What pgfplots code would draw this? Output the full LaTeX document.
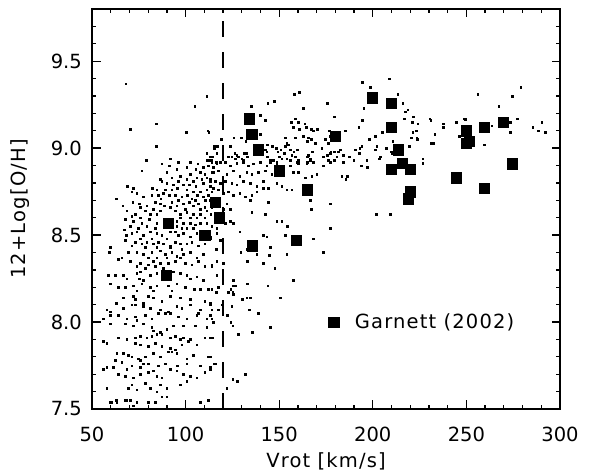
\documentclass[border=0pt]{standalone}
\usepackage{fontspec}
\setmainfont{DejaVu Sans}
\newfontfamily\lblfont[LetterSpace=6]{DejaVu Sans}
\usepackage{pgfplots}
\usepackage{pgfplotstable}
\pgfplotsset{compat=1.18}
\pgfplotstableread{
x y
134.0 9.17
135.3 9.08
138.8 8.99
150.1 8.87
115.9 8.69
118.0 8.60
90.8 8.57
110.2 8.50
89.5 8.27
135.6 8.44
159.0 8.47
165.0 8.76
179.8 9.07
199.7 9.29
209.9 9.26
209.9 9.12
213.7 8.99
215.8 8.915
209.9 8.88
220.0 8.88
220.0 8.75
218.9 8.71
244.6 8.83
259.6 8.77
250.0 9.10
251.6 9.04
250.0 9.03
259.6 9.12
269.7 9.15
274.5 8.91
}\garnett
\pgfplotstableread{
x y
68.0 9.37
111.3 9.30
104.9 9.24
84.2 9.14
70.5 9.11
100.4 9.09
111.8 9.10
112.3 9.09
84.2 9.01
115.2 9.00
111.3 8.97
114.1 8.95
91.7 8.94
78.8 8.93
96.1 8.92
112.1 8.93
113.0 8.93
160.6 9.32
157.9 9.31
147.2 9.27
143.8 9.26
135.1 9.24
175.5 9.26
162.9 9.23
139.9 9.19
142.6 9.16
156.5 9.15
158.6 9.17
160.0 9.15
157.4 9.12
163.6 9.14
164.3 9.12
160.6 9.11
167.0 9.11
170.4 9.11
168.2 9.10
162.7 9.07
165.6 9.06
167.2 9.05
165.0 9.04
176.6 9.10
153.3 9.06
158.4 9.06
139.7 9.08
125.7 9.06
129.8 9.06
132.1 9.04
118.9 9.05
115.2 9.01
116.9 9.01
123.7 9.01
126.2 8.97
124.6 8.95
128.0 8.95
131.4 8.97
132.6 8.97
130.0 8.94
113.0 8.95
113.9 8.95
116.6 8.97
143.5 9.02
146.2 9.01
148.3 9.00
142.4 8.99
143.3 8.98
143.5 8.95
149.2 8.98
150.8 8.99
152.6 8.97
154.0 9.03
154.9 9.02
153.3 9.01
155.8 8.99
157.8 8.98
159.7 8.99
156.7 8.96
158.6 8.95
150.1 8.95
151.3 8.94
154.0 8.94
155.8 8.93
160.2 8.93
159.7 8.92
165.6 8.96
165.0 8.95
166.5 8.94
167.5 8.98
169.3 9.03
172.7 9.00
173.6 8.95
175.7 8.96
177.5 8.98
174.6 9.05
176.1 9.03
177.3 9.07
122.8 8.95
126.4 8.94
128.1 8.95
127.3 8.96
130.8 8.92
133.0 8.95
113.0 8.93
116.2 8.92
118.4 8.92
145.1 8.92
146.8 8.93
148.7 8.92
165.0 8.92
166.5 8.93
177.1 8.92
179.3 8.93
78.8 8.93
87.2 8.91
96.1 8.92
91.3 8.90
102.3 8.92
106.4 8.91
111.2 8.93
113.9 8.92
112.1 8.90
114.8 8.89
109.5 8.89
105.5 8.88
100.6 8.89
95.2 8.88
76.5 8.87
89.9 8.86
107.7 8.86
113.9 8.86
110.3 8.85
102.3 8.85
97.0 8.84
92.5 8.83
86.3 8.82
87.2 8.81
105.9 8.83
111.2 8.83
113.0 8.82
100.6 8.82
104.1 8.81
108.6 8.82
68.9 8.78
72.1 8.77
71.2 8.75
82.2 8.77
89.9 8.80
93.4 8.79
96.1 8.81
98.8 8.79
102.0 8.79
105.5 8.78
109.5 8.80
113.0 8.78
114.8 8.77
84.5 8.76
89.0 8.76
92.5 8.76
95.6 8.77
100.6 8.76
104.1 8.75
107.7 8.75
111.2 8.76
62.8 8.71
73.9 8.74
77.4 8.72
81.9 8.73
85.4 8.73
88.1 8.74
91.3 8.73
94.3 8.73
97.9 8.72
100.9 8.73
103.2 8.71
106.2 8.73
109.5 8.72
112.1 8.73
86.7 8.71
96.1 8.70
105.0 8.70
110.4 8.70
113.0 8.70
66.4 8.67
71.7 8.69
75.3 8.68
79.2 8.67
83.6 8.69
86.3 8.68
88.5 8.67
92.5 8.69
95.2 8.67
98.8 8.68
102.0 8.69
104.1 8.67
106.8 8.68
110.3 8.66
113.9 8.67
91.7 8.66
82.8 8.65
75.6 8.66
99.7 8.65
107.7 8.65
68.5 8.64
73.0 8.62
78.3 8.64
81.0 8.62
84.5 8.62
86.3 8.64
94.3 8.64
97.0 8.62
100.6 8.63
104.1 8.62
107.7 8.62
111.2 8.64
113.4 8.62
71.2 8.61
75.6 8.60
97.0 8.60
102.3 8.60
105.9 8.60
110.3 8.60
67.6 8.59
72.1 8.58
76.5 8.57
80.6 8.59
84.5 8.57
95.2 8.58
98.8 8.57
102.3 8.57
105.0 8.56
107.7 8.57
111.2 8.57
113.9 8.55
70.3 8.55
74.7 8.54
79.2 8.55
83.6 8.54
95.2 8.55
97.9 8.54
100.6 8.54
104.1 8.54
67.1 8.53
68.2 8.50
71.2 8.51
73.9 8.52
77.4 8.50
81.0 8.52
84.5 8.51
87.2 8.50
91.7 8.52
94.3 8.52
96.1 8.50
98.8 8.51
102.3 8.49
105.9 8.51
108.6 8.48
111.2 8.50
113.4 8.49
75.6 8.48
81.9 8.48
89.9 8.48
59.6 8.43
67.6 8.47
73.0 8.46
76.5 8.45
79.2 8.46
82.8 8.45
85.4 8.46
88.1 8.45
91.7 8.44
94.3 8.46
97.0 8.45
100.6 8.45
103.2 8.46
106.8 8.44
110.3 8.45
71.2 8.44
78.3 8.43
84.5 8.43
91.7 8.43
97.9 8.42
59.3 8.40
64.1 8.36
65.8 8.37
69.4 8.40
73.9 8.40
77.4 8.39
81.9 8.40
86.3 8.41
89.0 8.39
92.5 8.40
95.2 8.38
98.8 8.39
102.3 8.40
105.9 8.37
109.5 8.39
80.1 8.37
84.5 8.37
89.9 8.37
97.0 8.37
70.3 8.35
75.6 8.34
80.1 8.33
82.8 8.35
86.3 8.34
90.8 8.34
94.3 8.35
99.7 8.34
103.2 8.33
106.8 8.35
110.3 8.32
113.9 8.33
73.9 8.32
78.3 8.31
83.6 8.32
88.1 8.31
58.7 8.27
62.3 8.27
66.7 8.27
73.9 8.28
75.3 8.25
77.4 8.24
81.0 8.27
84.5 8.28
93.4 8.29
97.0 8.28
100.6 8.27
102.3 8.25
105.9 8.26
75.6 8.29
68.5 8.25
109.5 8.24
113.9 8.93
116.6 8.91
121.0 8.92
123.7 8.90
127.3 8.915
130.8 8.93
133.5 8.90
136.2 8.91
139.7 8.92
143.3 8.90
145.1 8.93
148.6 8.915
155.8 8.90
160.2 8.915
164.7 8.91
168.2 8.92
173.5 8.90
176.2 8.93
114.8 8.86
117.5 8.87
121.9 8.85
125.5 8.87
129.0 8.84
132.6 8.86
135.3 8.85
138.8 8.86
142.4 8.87
146.0 8.85
157.5 8.86
160.2 8.86
163.8 8.83
167.3 8.84
170.0 8.85
113.0 8.81
115.7 8.81
118.4 8.80
121.0 8.81
124.6 8.80
127.3 8.79
130.8 8.81
134.4 8.80
137.9 8.78
141.5 8.81
144.2 8.77
151.3 8.78
154.0 8.76
156.6 8.76
148.6 8.80
113.9 8.75
117.5 8.76
120.2 8.74
122.8 8.75
125.5 8.73
129.0 8.74
131.7 8.72
135.3 8.73
137.9 8.75
141.5 8.77
115.2 8.71
121.9 8.68
123.7 8.65
120.2 8.65
134.4 8.70
144.2 8.69
166.4 8.70
177.1 8.68
113.9 8.66
115.7 8.62
135.3 8.63
142.4 8.62
148.6 8.58
151.3 8.58
154.3 8.55
177.1 8.54
121.0 8.57
123.7 8.58
125.5 8.57
113.9 8.55
116.6 8.54
129.0 8.52
141.5 8.50
143.3 8.49
153.1 8.50
168.2 8.48
116.6 8.51
113.0 8.48
118.4 8.47
145.1 8.43
116.2 8.42
132.6 8.42
137.9 8.39
144.7 8.385
129.4 8.40
154.0 8.39
173.5 8.40
116.6 8.35
132.9 8.35
141.5 8.34
113.9 8.32
120.2 8.34
147.7 8.31
116.6 8.27
157.5 8.24
125.5 8.24
167.0 8.65
59.6 8.22
64.1 8.20
67.6 8.20
72.1 8.21
76.5 8.22
81.0 8.20
84.5 8.21
90.8 8.21
95.2 8.22
99.7 8.20
104.5 8.19
107.7 8.19
112.1 8.19
73.9 8.18
82.8 8.18
92.5 8.18
62.8 8.11
66.7 8.14
72.1 8.15
73.0 8.13
77.4 8.11
80.1 8.15
82.8 8.14
87.2 8.12
91.7 8.15
97.0 8.14
102.3 8.13
110.3 8.12
113.0 8.11
71.2 8.10
57.8 8.07
59.6 8.06
66.7 8.08
73.0 8.10
77.4 8.09
81.0 8.08
86.3 8.07
90.8 8.06
95.2 8.09
97.9 8.08
102.3 8.10
106.8 8.05
107.7 8.07
113.9 8.07
56.1 8.02
59.6 8.04
64.1 8.04
68.5 8.02
73.0 8.03
73.9 8.01
78.3 8.04
81.9 8.02
85.4 8.05
89.0 8.05
91.7 8.05
96.1 8.03
100.6 8.02
105.9 8.04
111.2 8.02
59.6 7.99
67.6 7.99
72.1 7.98
77.4 7.99
81.9 7.97
82.8 7.95
86.3 7.94
89.9 7.96
93.4 7.98
98.8 7.98
105.0 7.98
111.2 7.97
56.1 7.89
57.8 7.88
64.1 7.91
68.5 7.90
73.0 7.91
75.6 7.92
79.2 7.91
81.9 7.92
84.5 7.93
87.2 7.93
91.7 7.91
94.3 7.92
98.8 7.91
102.3 7.90
110.3 7.91
113.9 7.91
73.0 7.88
75.6 7.87
80.1 7.86
83.6 7.88
87.2 7.86
91.7 7.85
94.3 7.84
97.9 7.87
101.4 7.89
105.9 7.87
97.0 7.90
63.2 7.82
66.7 7.82
69.4 7.81
71.2 7.80
74.7 7.79
78.3 7.80
82.8 7.82
86.3 7.80
90.8 7.83
92.5 7.83
95.2 7.82
100.6 7.79
104.1 7.81
112.1 7.80
75.6 7.78
56.1 7.73
57.8 7.74
62.3 7.78
65.8 7.77
71.2 7.75
75.6 7.74
77.4 7.76
80.1 7.76
85.4 7.75
89.0 7.76
91.7 7.73
95.6 7.75
100.6 7.76
107.7 7.75
113.0 7.73
115.7 7.76
61.4 7.74
68.5 7.73
82.8 7.72
64.1 7.70
67.6 7.69
72.1 7.68
75.6 7.70
80.1 7.71
84.5 7.69
87.2 7.68
95.2 7.72
98.8 7.70
102.3 7.69
105.9 7.68
110.3 7.71
57.8 7.62
69.4 7.62
71.2 7.64
73.9 7.61
78.3 7.65
81.0 7.62
84.5 7.60
86.3 7.64
89.9 7.62
97.0 7.64
100.6 7.66
60.5 7.54
62.8 7.55
67.6 7.55
70.3 7.55
73.9 7.54
80.1 7.54
83.6 7.54
87.2 7.57
89.9 7.57
107.7 7.54
112.1 7.55
59.6 7.54
63.2 7.54
68.2 7.55
72.1 7.52
113.9 8.19
117.5 8.20
116.2 8.17
124.1 8.19
125.1 8.21
126.4 8.21
133.0 8.22
143.8 8.21
122.8 8.17
125.1 8.17
125.5 8.16
130.3 8.13
132.6 8.14
134.4 8.14
150.4 8.14
113.0 8.10
119.3 8.10
124.6 8.09
117.5 8.07
134.0 8.07
138.8 8.05
113.0 8.04
113.9 8.02
114.8 8.00
122.3 8.04
124.1 8.00
125.1 7.98
145.1 7.97
128.2 7.93
135.6 7.94
113.0 7.91
114.4 7.91
113.0 7.80
115.2 7.76
113.0 7.74
131.7 7.70
125.1 7.67
127.6 7.66
121.9 7.62
194.4 9.38
198.5 9.35
208.8 9.40
213.3 9.31
216.0 9.26
195.1 9.23
217.4 9.21
218.6 9.22
194.4 9.16
216.7 9.17
221.5 9.18
220.9 9.15
224.0 9.14
179.5 9.18
192.4 9.12
185.2 9.10
230.5 9.17
230.9 9.16
237.7 9.14
237.7 9.12
244.4 9.15
248.5 9.17
249.2 9.165
246.2 9.07
256.0 9.31
274.5 9.30
279.1 9.35
267.2 9.24
273.4 9.15
277.0 9.17
258.1 9.10
263.6 9.13
273.4 9.09
259.6 9.02
285.4 9.12
288.4 9.10
290.2 9.15
292.1 9.09
223.1 9.10
221.3 9.09
220.4 9.06
223.4 9.06
223.8 9.05
219.3 9.01
201.3 9.07
198.1 9.05
205.1 9.09
210.6 9.04
209.7 8.98
207.2 9.00
202.1 9.01
201.2 8.99
194.0 9.01
193.0 9.00
190.5 8.99
192.8 8.97
189.8 8.93
184.3 8.96
187.3 8.95
182.5 8.99
181.4 8.98
179.5 8.98
177.1 8.97
184.3 8.92
180.7 8.95
196.7 8.93
193.7 8.90
197.1 8.89
204.0 8.95
203.5 8.94
210.3 8.97
226.6 8.94
226.6 8.915
231.3 9.03
232.3 9.03
233.0 9.08
183.4 8.84
186.2 8.84
185.5 8.82
201.7 8.62
209.2 8.62
177.1 8.54
}\survey
\begin{document}
\begin{tikzpicture}
\useasboundingbox (0,0) rectangle (601bp,475bp);
\begin{axis}[
  at={(92bp,66bp)}, anchor=south west,
  scale only axis, width=468bp, height=400bp,
  xmin=50, xmax=300, ymin=7.5, ymax=9.8,
  xtick={50,100,150,200,250,300},
  ytick={7.5,8,8.5,9,9.5},
  minor xtick={60,70,80,90,110,120,130,140,160,170,180,190,210,220,230,240,260,270,280,290},
  minor ytick={7.6,7.7,7.8,7.9,8.1,8.2,8.3,8.4,8.6,8.7,8.8,8.9,9.1,9.2,9.3,9.4,9.6,9.7},
  tick align=inside,
  major tick length=8.5bp, minor tick length=4.3bp,
  axis line style={line width=1.6bp},
  tick style={line width=1.3bp, black},
  /pgf/number format/assume math mode=true,
  tick label style={font=\fontsize{19.5bp}{23bp}\selectfont},
  xticklabel style={anchor=north, inner sep=0pt, yshift=-18bp},
  yticklabel style={anchor=east, inner sep=0pt, xshift=-10bp,
     /pgf/number format/.cd, fixed, fixed zerofill, precision=1},
  xlabel={\lblfont Vrot [km/s]},
  ylabel={\lblfont 12+Log[O/H]},
  label style={font=\fontsize{19.5bp}{23bp}\selectfont},
  xlabel style={at={(axis description cs:0.5,-0.131)}, anchor=center},
  ylabel style={at={(axis description cs:-0.153,0.5)}, anchor=center},
  legend cell align=left,
  legend style={draw=none, fill=none, at={(axis description cs:0.4985,0.2175)}, anchor=west,
     font=\fontsize{19.5bp}{23bp}\selectfont},
]
\addplot[only marks, mark=square*, mark size=0.8bp, mark options={draw=none, fill=black}, forget plot] table {\survey};
\addplot[black, line width=1.8bp, dash pattern=on 16bp off 15bp, forget plot] coordinates {(120,7.5) (120,9.8)};
\addplot[only marks, mark=square*, mark size=5.2bp, mark options={draw=none, fill=black}] table {\garnett};
\addlegendentry{\hspace{14bp}\lblfont Garnett (2002)}
\end{axis}
\end{tikzpicture}
\end{document}
